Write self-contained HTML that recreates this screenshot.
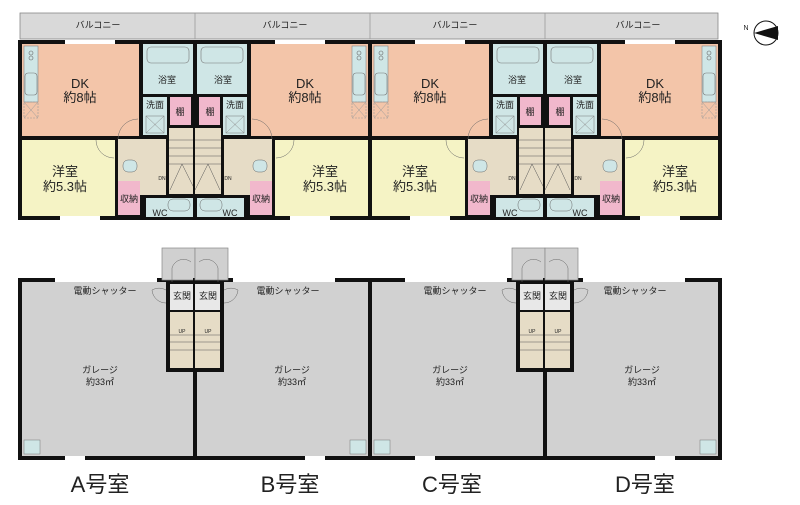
<!DOCTYPE html>
<html><head><meta charset="utf-8"><style>
html,body{margin:0;padding:0;background:#fff}
svg{display:block}
text{font-family:"Liberation Sans","Noto Sans CJK JP",sans-serif;fill:#222;text-anchor:middle}
</style></head><body>
<svg width="800" height="505" viewBox="0 0 800 505" xmlns="http://www.w3.org/2000/svg">
<defs>
<g id="ua">
  <rect x="18" y="40" width="179" height="180" fill="#111"/>
  <rect x="22" y="44" width="117" height="92" fill="#f3c5a9"/>
  <rect x="24" y="46" width="14" height="56" fill="#cfe6e6" stroke="#888" stroke-width="0.6"/>
  <circle cx="31" cy="53" r="2" fill="none" stroke="#666" stroke-width="0.6"/>
  <circle cx="31" cy="58" r="2" fill="none" stroke="#666" stroke-width="0.6"/>
  <rect x="25" y="73" width="12" height="22" rx="3" fill="none" stroke="#777" stroke-width="0.6"/>
  <rect x="24" y="102" width="14" height="16" fill="none" stroke="#999" stroke-dasharray="2 1" stroke-width="0.6"/>
  <path d="M24 102L38 118M38 102L24 118" stroke="#999" stroke-width="0.5"/>
  <rect x="143" y="44" width="50" height="50" fill="#cfe6e6"/>
  <rect x="147" y="47" width="42" height="16" rx="4" fill="none" stroke="#777" stroke-width="0.6"/>
  <rect x="143" y="97" width="24" height="38" fill="#cfe6e6"/>
  <rect x="146" y="116" width="18" height="17" fill="none" stroke="#777" stroke-width="0.5"/>
  <path d="M146 116L164 133M164 116L146 133" stroke="#888" stroke-width="0.5"/>
  <rect x="170" y="97" width="21" height="28" fill="#f1b8cc"/>
  <rect x="118" y="139" width="48" height="56" fill="#e6dcc6"/>
  <rect x="169" y="128" width="26" height="66" fill="#e6dcc6"/>
  <path d="M169 140H195M169 148H195M169 156H195M169 164H195M182 164L170 190M182 164L195 190" stroke="#555" stroke-width="0.5" fill="none"/>
  <rect x="22" y="140" width="93" height="76" fill="#f5f3c5"/>
  <rect x="118" y="181" width="22" height="34" fill="#f1b8cc"/>
  <rect x="146" y="198" width="47" height="19" fill="#cfe6e6"/>
  <rect x="123" y="160" width="14" height="12" rx="5" fill="#cfe6e6" stroke="#666" stroke-width="0.5"/>
  <rect x="168" y="199" width="22" height="12" rx="5" fill="none" stroke="#666" stroke-width="0.5"/>
  <rect x="65" y="40" width="50" height="4" fill="#fff"/>
  <rect x="60" y="216" width="40" height="4" fill="#fff"/>
  <path d="M118 139A20 20 0 0 1 138 119" fill="none" stroke="#666" stroke-width="0.5"/>
  <path d="M96 140A18 18 0 0 0 114 158" fill="none" stroke="#666" stroke-width="0.5"/>
  <rect x="18" y="278" width="179" height="182" fill="#111"/>
  <rect x="22" y="282" width="171" height="174" fill="#d1d1d1"/>
  <rect x="55" y="278" width="102" height="4" fill="#fff"/>
  <rect x="162" y="248" width="33" height="32" fill="#d0d0d0" stroke="#888" stroke-width="0.7"/>
  <rect x="166" y="281" width="29" height="91" fill="#111"/>
  <rect x="170" y="284" width="25" height="26" fill="#e8e8e8"/>
  <rect x="170" y="312" width="25" height="56" fill="#e6dcc6"/>
  <path d="M170 335H195M170 342H195M170 350H195" stroke="#555" stroke-width="0.5"/>
  <path d="M172 282V268A12 12 0 0 1 191 262" fill="none" stroke="#666" stroke-width="0.5"/>
  <path d="M166 290A14 14 0 0 0 152 290A14 14 0 0 0 166 303" fill="none" stroke="#666" stroke-width="0.5"/>
  <rect x="24" y="440" width="16" height="14" fill="#cfe6e6" stroke="#777" stroke-width="0.5"/>
  <rect x="65" y="456" width="20" height="4" fill="#fff"/>
</g>
</defs>
<rect x="20" y="13" width="698" height="26" fill="#d9d9d9" stroke="#888" stroke-width="0.8"/>
<path d="M195 13V39M370 13V39M545 13V39" stroke="#999" stroke-width="0.8"/>
<use href="#ua"/>
<use href="#ua" transform="translate(390,0) scale(-1,1)"/>
<use href="#ua" transform="translate(350,0)"/>
<use href="#ua" transform="translate(740,0) scale(-1,1)"/>
<g font-size="9">
<text x="98" y="28">バルコニー</text><text x="285" y="28">バルコニー</text><text x="455" y="28">バルコニー</text><text x="638" y="28">バルコニー</text>
</g>
<g font-size="13">
<text x="80" y="88">DK</text><text x="80" y="102">約8帖</text>
<text x="305" y="88">DK</text><text x="305" y="102">約8帖</text>
<text x="430" y="88">DK</text><text x="430" y="102">約8帖</text>
<text x="655" y="88">DK</text><text x="655" y="102">約8帖</text>
<text x="65" y="176">洋室</text><text x="65" y="191">約5.3帖</text>
<text x="325" y="176">洋室</text><text x="325" y="191">約5.3帖</text>
<text x="415" y="176">洋室</text><text x="415" y="191">約5.3帖</text>
<text x="675" y="176">洋室</text><text x="675" y="191">約5.3帖</text>
</g>
<g font-size="9">
<text x="167" y="83">浴室</text><text x="223" y="83">浴室</text><text x="517" y="83">浴室</text><text x="573" y="83">浴室</text>
<text x="155" y="108">洗面</text><text x="235" y="108">洗面</text><text x="505" y="108">洗面</text><text x="585" y="108">洗面</text>
<text x="180" y="115">棚</text><text x="210" y="115">棚</text><text x="530" y="115">棚</text><text x="560" y="115">棚</text>
<text x="129" y="202">収納</text><text x="261" y="202">収納</text><text x="479" y="202">収納</text><text x="611" y="202">収納</text>
<text x="160" y="216">WC</text><text x="230" y="216">WC</text><text x="510" y="216">WC</text><text x="580" y="216">WC</text>
<text x="105" y="294">電動シャッター</text><text x="288" y="294">電動シャッター</text><text x="455" y="294">電動シャッター</text><text x="635" y="294">電動シャッター</text>
<text x="182" y="299">玄関</text><text x="208" y="299">玄関</text><text x="532" y="299">玄関</text><text x="558" y="299">玄関</text>
<text x="100" y="373">ガレージ</text><text x="100" y="385">約33㎡</text>
<text x="292" y="373">ガレージ</text><text x="292" y="385">約33㎡</text>
<text x="450" y="373">ガレージ</text><text x="450" y="385">約33㎡</text>
<text x="642" y="373">ガレージ</text><text x="642" y="385">約33㎡</text>
</g>
<g font-size="5">
<text x="182" y="333">UP</text><text x="208" y="333">UP</text><text x="532" y="333">UP</text><text x="558" y="333">UP</text>
<text x="162" y="180">DN</text><text x="228" y="180">DN</text><text x="512" y="180">DN</text><text x="578" y="180">DN</text>
</g>
<g font-size="22">
<text x="100" y="492">A号室</text><text x="290" y="492">B号室</text><text x="452" y="492">C号室</text><text x="645" y="492">D号室</text>
</g>
<text x="746" y="30" font-size="7">N</text>
<circle cx="766" cy="33" r="12" fill="#fff" stroke="#111" stroke-width="1"/>
<path d="M754 33L778 26L778 40Z" fill="#111"/>
</svg>
</body></html>
